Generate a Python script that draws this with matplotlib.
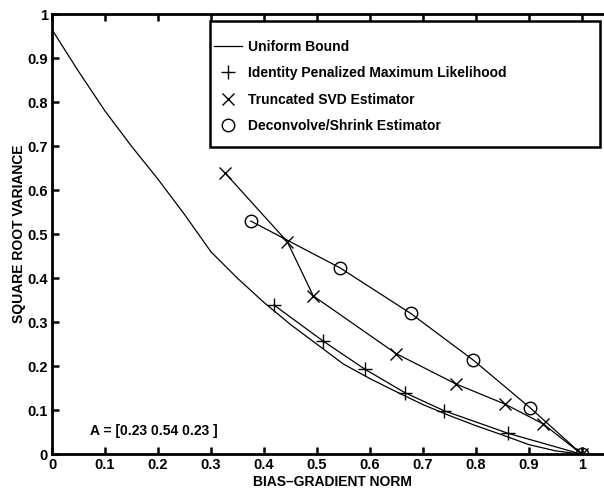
import numpy as np
import matplotlib
matplotlib.use("Agg")
import matplotlib.pyplot as plt
from matplotlib.patches import Rectangle

plt.rcParams['font.family'] = ['Liberation Sans', 'DejaVu Sans']
plt.rcParams['font.weight'] = 'bold'

# uniform lower bound on the square-root variance
bound_x = [0, 0.05, 0.1, 0.15, 0.2, 0.25, 0.3, 0.35, 0.4, 0.45, 0.5,
           0.55, 0.6, 0.65, 0.7, 0.75, 0.8, 0.85, 0.9, 0.95, 1.0]
bound_y = [0.965, 0.87, 0.78, 0.70, 0.625, 0.545, 0.46, 0.40, 0.345, 0.295, 0.25,
           0.205, 0.172, 0.142, 0.113, 0.088, 0.065, 0.044, 0.022, 0.008, 0.0]

# identity penalized maximum likelihood
ipml_x = [0.419, 0.512, 0.591, 0.666, 0.74, 0.86, 1.0]
ipml_y = [0.339, 0.257, 0.193, 0.14, 0.099, 0.048, 0.0]

# truncated SVD
tsvd_x = [0.326, 0.444, 0.493, 0.649, 0.762, 0.855, 0.927, 1.0]
tsvd_y = [0.64, 0.483, 0.36, 0.229, 0.16, 0.114, 0.069, 0.0]

# deconvolve / shrink
dsh_x = [0.375, 0.543, 0.677, 0.795, 0.902, 1.0]
dsh_y = [0.53, 0.424, 0.32, 0.214, 0.106, 0.0]

fig = plt.figure(figsize=(6.04, 4.88), dpi=100)
ax = fig.add_axes([0.0861, 0.069, 0.93, 0.902])

lw = 0.9
ax.plot(bound_x, bound_y, 'k-', linewidth=lw, label='Uniform Bound')
ax.plot(ipml_x, ipml_y, 'k-', linewidth=lw)
ax.plot(ipml_x, ipml_y, 'k+', markersize=10, markeredgewidth=1.0,
        linestyle='none', label='Identity Penalized Maximum Likelihood')
ax.plot(tsvd_x, tsvd_y, 'k-', linewidth=lw)
ax.plot(tsvd_x, tsvd_y, 'kx', markersize=9, markeredgewidth=1.0,
        linestyle='none', label='Truncated SVD Estimator')
ax.plot(dsh_x, dsh_y, 'k-', linewidth=lw)
ax.plot(dsh_x, dsh_y, 'ko', markersize=9, markerfacecolor='none',
        markeredgewidth=1.0, linestyle='none', label='Deconvolve/Shrink Estimator')

ax.text(0.072, 0.053, 'A = [0.23 0.54 0.23 ]', fontsize=10, fontweight='bold',
        va='center', ha='left')

ax.set_xlim(0, 1.06)
ax.set_ylim(0, 1)
ticks = np.round(np.arange(0, 1.01, 0.1), 1)
labels = ['0'] + [f'{t:.1f}' for t in ticks[1:-1]] + ['1']
ax.set_xticks(ticks)
ax.set_xticklabels(labels)
ax.set_yticks(ticks)
ax.set_yticklabels(labels)
ax.tick_params(direction='in', length=5, width=1.8, top=True, right=True,
               labelsize=10.5, pad=3)
for s in ax.spines.values():
    s.set_linewidth(2.0)

ax.set_xlabel('BIAS\u2013GRADIENT NORM', fontsize=10, fontweight='bold', labelpad=2)
ax.set_ylabel('SQUARE ROOT VARIANCE', fontsize=10, fontweight='bold', labelpad=1)

# legend box is wider than its entries, so draw the frame separately
box = Rectangle((0.281, 0.698), 0.695, 0.286, transform=ax.transAxes,
                facecolor='white', edgecolor='black', linewidth=1.8, zorder=4)
ax.add_patch(box)
leg = ax.legend(loc='upper left', bbox_to_anchor=(0.288, 0.942),
                frameon=False, fontsize=10, handlelength=2.0, handletextpad=0.45,
                labelspacing=0.9, borderpad=0, borderaxespad=0)
leg.set_zorder(5)
for t in leg.get_texts():
    t.set_fontweight('bold')

fig.savefig('out.png', dpi=100)
